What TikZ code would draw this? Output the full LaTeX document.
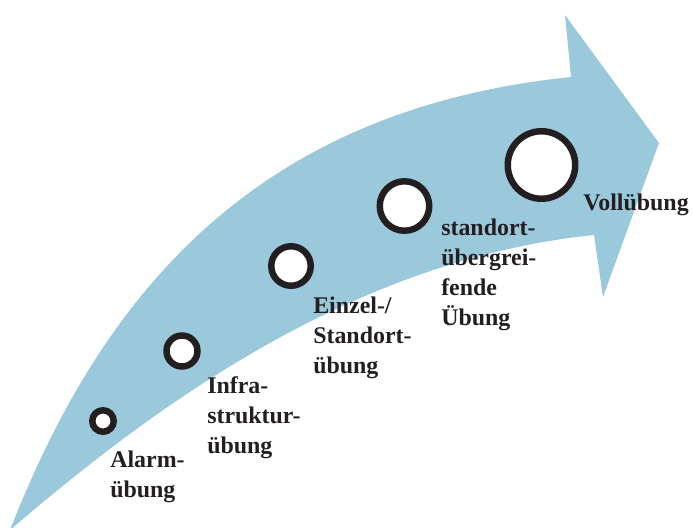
\documentclass[tikz,border=0pt]{standalone}
\usepackage{fontspec}
\setmainfont{Liberation Serif}
\usepackage{xcolor}
\definecolor{arrowblue}{RGB}{155,201,220}
\definecolor{ringblack}{RGB}{35,31,32}

\begin{document}
\begin{tikzpicture}[x=0.025cm, y=-0.025cm,
    ring/.style={circle, draw=ringblack, fill=white, line width=4.6pt, inner sep=0pt},
    lbl/.style={anchor=base west, align=left, inner sep=0pt, text=ringblack,
      font=\fontsize{17}{21.3}\selectfont\bfseries}]
  \useasboundingbox (0,0) rectangle (693,528);
  % the big arrow
  \fill[arrowblue] (10,530) .. controls (100,300) and (250,110) .. (571,77)
    -- (565,15) -- (659,143) -- (603,297) -- (594,235)
    .. controls (350,260) and (150,410) .. cycle;
  % circles
  \node[ring, minimum size=21.5*0.025cm] (alarm) at (103,421) {};
  \node[ring, minimum size=31*0.025cm] (infra) at (182,351) {};
  \node[ring, minimum size=39.5*0.025cm] (einzel) at (291,266) {};
  \node[ring, minimum size=49.5*0.025cm] (standort) at (404.5,206) {};
  \node[ring, minimum size=67.5*0.025cm] (voll) at (541.5,165) {};
  % labels (base = last line)
  \node[lbl] (alarm-l) at (110,497) {Alarm-\\übung};
  \node[lbl] (infra-l) at (207,453) {Infra-\\struktur-\\übung};
  \node[lbl] (einzel-l) at (313,373) {Einzel-/\\Standort-\\übung};
  \node[lbl] (standort-l) at (441,325) {standort-\\übergrei-\\fende\\Übung};
  \node[lbl] (voll-l) at (583,210) {Vollübung};
\end{tikzpicture}
\end{document}
